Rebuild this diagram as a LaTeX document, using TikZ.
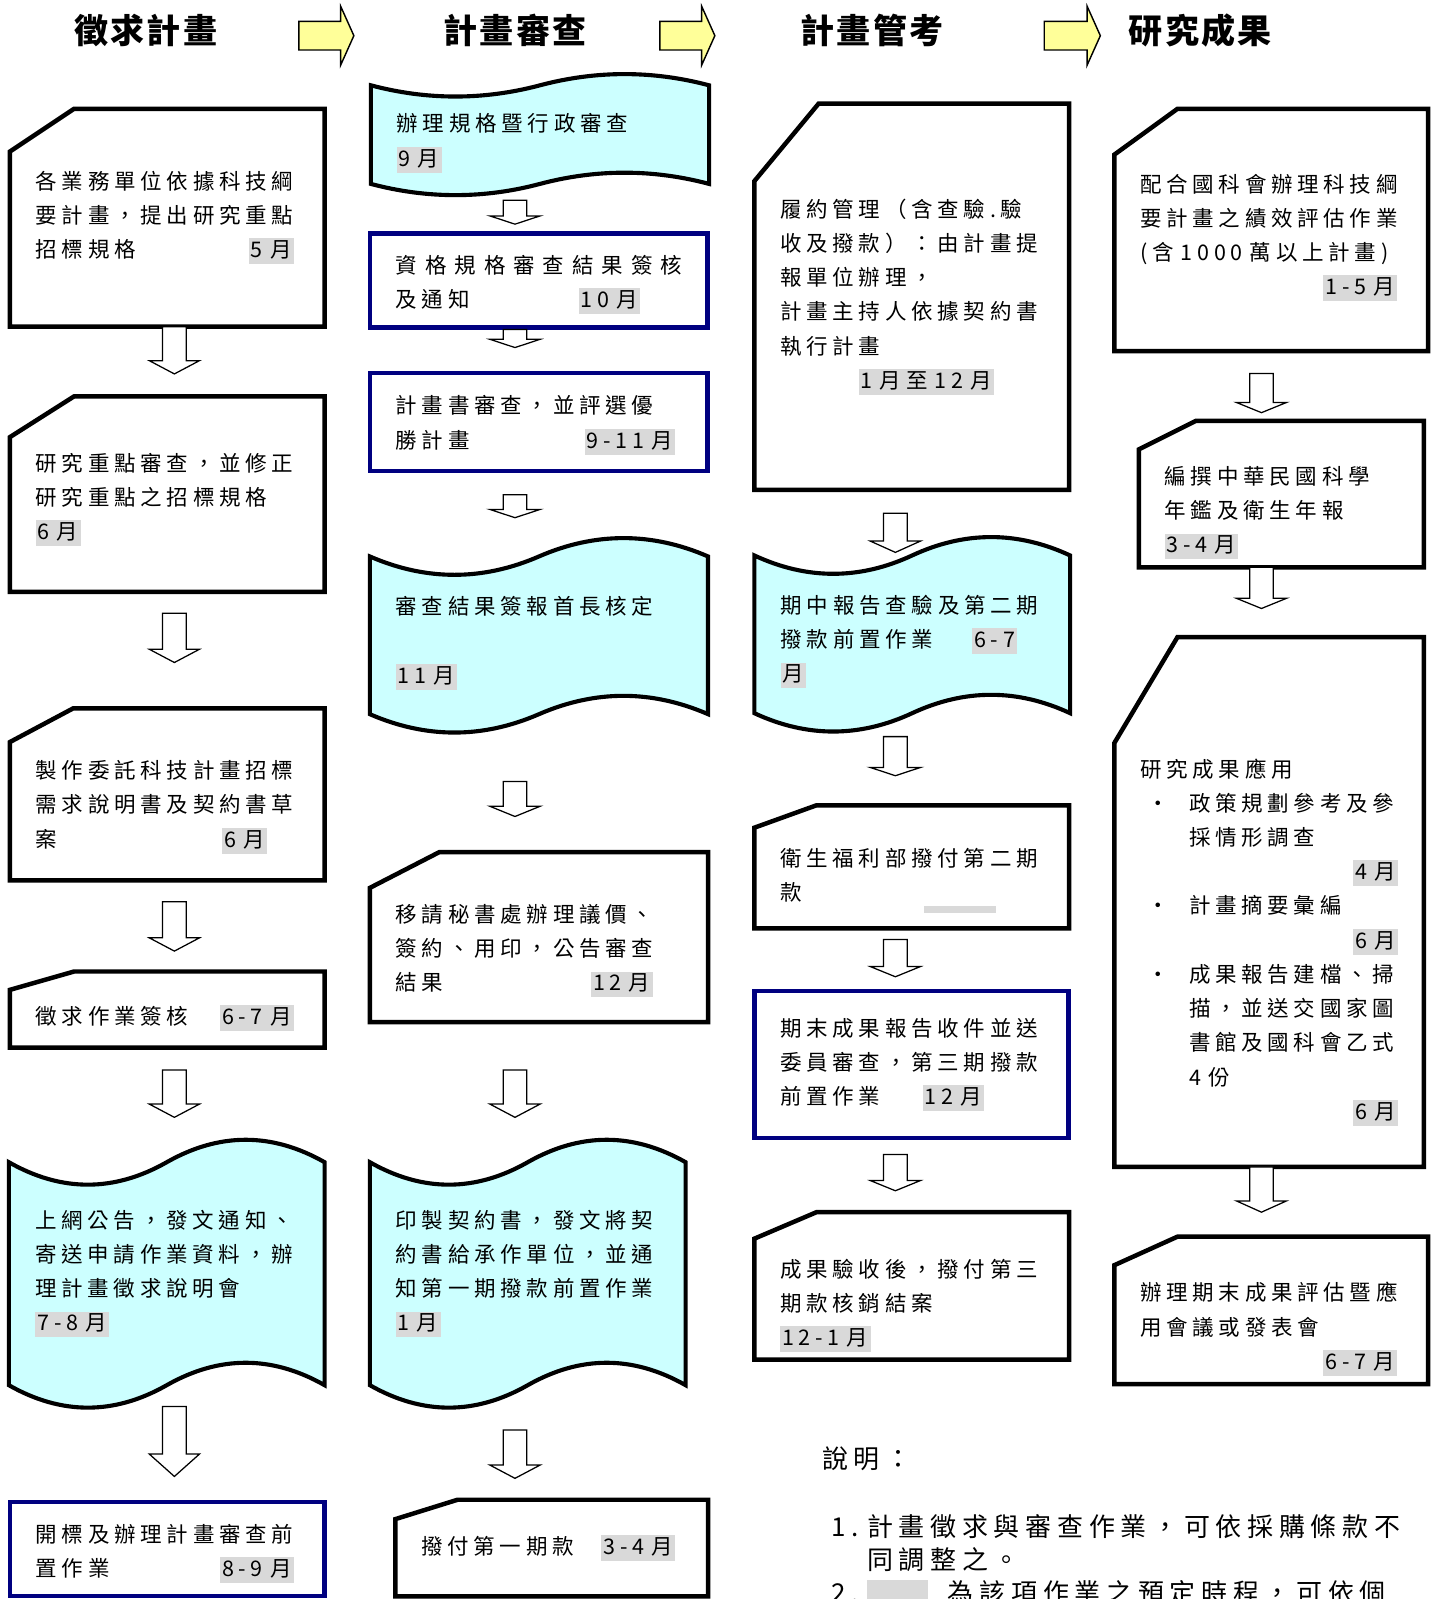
\documentclass[tikz,border=0pt]{standalone}
\usepackage{fontspec}
\setmainfont{Noto Sans CJK TC}
\newfontfamily\boxfont{Noto Sans CJK TC}[LetterSpace=22]
\newfontfamily\headfont{Noto Sans CJK TC}[LetterSpace=7]
\usetikzlibrary{calc,backgrounds}
\definecolor{tapecyan}{RGB}{204,255,255}
\definecolor{framenavy}{RGB}{0,0,128}
\definecolor{phaseyellow}{RGB}{255,255,153}
\definecolor{monthgray}{RGB}{217,217,217}

\newcommand{\mon}[1]{{\setlength{\fboxsep}{1.2pt}\colorbox{monthgray}{\rule[-0.2em]{0pt}{1em}#1}}}
\newcommand{\cardframe}[3]{\draw[cardline] ($(#1.north west)+(#2,0)$) -- (#1.north east) -- (#1.south east) -- (#1.south west) -- ($(#1.north west)+(0,#3)$) -- cycle;}
\newcommand{\tapeframe}[2]{%
  \begin{pgfonlayer}{background}
  \filldraw[tapeline] let \p1=(#1.north west), \p2=(#1.south east), \n1={(\x2-\x1)/6}, \n2={#2*0.759pt} in
    (\x1,\y1) .. controls +(\n1,-\n2) and +(-\n1,-\n2) .. (\x1+3*\n1,\y1)
    .. controls +(\n1,\n2) and +(-\n1,\n2) .. (\x2,\y1) -- (\x2,\y2)
    .. controls +(-\n1,\n2) and +(\n1,\n2) .. (\x1+3*\n1,\y2)
    .. controls +(-\n1,-\n2) and +(\n1,-\n2) .. (\x1,\y2) -- cycle;
  \end{pgfonlayer}}

\begin{document}
\begin{tikzpicture}[x=0.02cm, y=-0.02cm,
    box/.style={font=\boxfont\fontsize{12}{19.1}\selectfont, align=left, inner sep=0pt},
    drop/.style={execute at begin node={\rule{0pt}{#1}}},
    bluebox/.style={box, draw=framenavy, line width=2.5pt},
    cardline/.style={draw=black, line width=2.5pt},
    tapeline/.style={draw=black, line width=2.3pt, fill=tapecyan},
    head/.style={font=\headfont\bfseries\fontsize{19}{22}\selectfont, inner sep=0pt},
    note/.style={font=\boxfont\fontsize{14.5}{18.4}\selectfont, align=left, inner sep=0pt},
    colA/.style={box, minimum width=6.16cm, text width=5.16cm},
    colB/.style={box, minimum width=6.62cm, text width=5.62cm},
    colC/.style={box, minimum width=6.16cm, text width=5.16cm},
    colD/.style={box, minimum width=6.14cm, text width=5.14cm},
    flow/.style={draw=black, line width=0.7pt, fill=white,
      to path={let \p1=(\tikztostart), \p2=(\tikztotarget) in
        (\x1-6.6pt,\y1) -- (\x1-6.6pt,\y2+#1) -- (\x1-14pt,\y2+#1) -- (\x1,\y2)
        -- (\x1+14pt,\y2+#1) -- (\x1+6.6pt,\y2+#1) -- (\x1+6.6pt,\y1) -- cycle}},
    flow/.default=7.4pt,
    phase/.style={draw=black, line width=0.8pt, fill=phaseyellow,
      to path={let \p1=(\tikztostart), \p2=(\tikztotarget) in
        (\x1,\y1+8pt) -- (\x2-7.4pt,\y1+8pt) -- (\x2-7.4pt,\y1+16.5pt) -- (\x2,\y1)
        -- (\x2-7.4pt,\y1-16.5pt) -- (\x2-7.4pt,\y1-8pt) -- (\x1,\y1-8pt) -- cycle}}
]
\useasboundingbox (0,0) rectangle (1409,1568);
\clip (0,0) rectangle (1409,1568);

% Titles
\node[head] (t1) at (143,30) {徵求計畫};
\node[head] (t2) at (505,30) {計畫審查};
\node[head] (t3) at (855,30) {計畫管考};
\node[head] (t4) at (1177,30) {研究成果};
\draw[phase] ($(t1)+(150,5)$) to ($(t2)+(-158,5)$);
\draw[phase] ($(t2)+(142,5)$) to ($(t3)+(-154,5)$);
\draw[phase] ($(t3)+(169,5)$) to ($(t4)+(-98,5)$);

% Column 1
\node[colA, minimum height=4.26cm] (a1) at (164,213.5) {各業務單位依據科技綱\\要計畫，提出研究重點\\招標規格\hfill\mon{5~月}\hspace{0.1cm}\mbox{}};
\node[colA, drop=16.3pt, minimum height=3.82cm] (a2) at (164,484.5) {研究重點審查，並修正\\研究重點之招標規格\\\mon{6~月}};
\node[colA, drop=24.3pt, minimum height=3.36cm] (a3) at (164,779) {製作委託科技計畫招標\\需求說明書及契約書草\\案\hfill\mon{6~月}\hspace{0.62cm}\mbox{}};
\node[colA, drop=20pt, minimum height=1.48cm] (a4) at (164,990) {徵求作業簽核\hfill\mon{6-7~月}\hspace{0.1cm}\mbox{}};
\node[colA, minimum width=6.18cm, minimum height=4.36cm] (a5) at (163.5,1249) {上網公告，發文通知、\\寄送申請作業資料，辦\\理計畫徵求說明會\\\mon{7-8~月}};
\node[colA, bluebox, drop=15.2pt, minimum height=1.84cm] (a6) at (164,1519) {開標及辦理計畫審查前\\置作業\hfill\mon{8-9~月}\hspace{0.1cm}\mbox{}};

% Column 2
\node[colB, drop=19.7pt, minimum height=1.92cm] (b1) at (529.5,132) {辦理規格暨行政審查\\\mon{9~月}};
\node[colB, bluebox, drop=14.6pt, minimum height=1.84cm] (b2) at (528.5,275) {\makebox[5.62cm][s]{資\hfill 格\hfill 規\hfill 格\hfill 審\hfill 查\hfill 結\hfill 果\hfill 簽\hfill 核}\\及通知\hfill\mon{10~月}\hspace{0.82cm}\mbox{}};
\node[colB, bluebox, drop=13.4pt, minimum height=1.92cm] (b3) at (528.5,414) {計畫書審查，並評選優\\勝計畫\hfill\mon{9-11~月}\hspace{0.14cm}\mbox{}};
\node[colB, drop=19.1pt, minimum height=3.08cm] (b4) at (528.5,623) {審查結果簽報首長核定\\[19.1pt]\mon{11~月}};
\node[colB, drop=25.4pt, minimum height=3.32cm] (b5) at (528.5,919) {移請秘書處辦理議價、\\簽約、用印，公告審查\\結果\hfill\mon{12~月}\hspace{0.58cm}\mbox{}};
\node[colB, minimum width=6.18cm, text width=5.18cm, minimum height=4.36cm] (b6) at (517.5,1249) {印製契約書，發文將契\\約書給承作單位，並通\\知第一期撥款前置作業\\\mon{1~月}};
\node[colB, minimum width=6.12cm, text width=5.12cm, minimum height=1.88cm] (b7) at (541,1518) {撥付第一期款\hfill\mon{3-4~月}\hspace{0.14cm}\mbox{}};

% Column 3
\node[colC, minimum height=7.56cm] (c1) at (894,291) {履約管理（含查驗.驗\\收及撥款）：由計畫提\\報單位辦理，\\計畫主持人依據契約書\\執行計畫\\\hspace*{1.54cm}\mon{1~月至~12~月}};
\node[colC, drop=18.6pt, minimum width=6.18cm, minimum height=3.08cm] (c2) at (894.5,622) {期中報告查驗及第二期\\撥款前置作業\hfill\mon{6-7}\hspace{0.52cm}\mbox{}\\\mon{月}};
\node[colC, drop=19.7pt, minimum height=2.4cm] (c3) at (894,850) {衛生福利部撥付第二期\\款};
\node[colC, bluebox, minimum height=2.88cm] (c4) at (894,1044) {期末成果報告收件並送\\委員審查，第三期撥款\\前置作業\hfill\mon{12~月}\hspace{1.16cm}\mbox{}};
\node[colC, drop=32.2pt, minimum height=2.88cm] (c5) at (894,1261) {成果驗收後，撥付第三\\期款核銷結案\\\mon{12-1~月}};

% Column 4
\node[colD, drop=18.6pt, minimum height=4.74cm] (d1) at (1246.5,225.5) {配合國科會辦理科技綱\\要計畫之績效評估作業\\(含~1000~萬以上計畫)\\\mbox{}\hfill\mon{1-5~月}\hspace{0.1cm}\mbox{}};
\node[colD, drop=31.1pt, minimum width=5.58cm, text width=4.58cm, minimum height=2.86cm] (d2) at (1256.5,484.5) {編撰中華民國科學\\年鑑及衛生年報\\\mon{3-4~月}};
\node[colD, minimum width=6.06cm, text width=5.06cm, minimum height=10.38cm] (d3) at (1244.5,884.5) {\mbox{}\\[36pt]研究成果應用\\
  \hspace*{0.14cm}\makebox[0.82cm][l]{•}政策規劃參考及參\\
  \hspace*{0.96cm}採情形調查\\
  \mbox{}\hfill\mon{4~月}\\
  \hspace*{0.14cm}\makebox[0.82cm][l]{•}計畫摘要彙編\\
  \mbox{}\hfill\mon{6~月}\\
  \hspace*{0.14cm}\makebox[0.82cm][l]{•}成果報告建檔、掃\\
  \hspace*{0.96cm}描，並送交國家圖\\
  \hspace*{0.96cm}書館及國科會乙式\\
  \hspace*{0.96cm}4~份\\
  \mbox{}\hfill\mon{6~月}};
\node[colD, drop=31.1pt, minimum height=2.88cm] (d4) at (1246.5,1285) {辦理期末成果評估暨應\\用會議或發表會\\\mbox{}\hfill\mon{6-7~月}\hspace{0.1cm}\mbox{}};

% Notes
\node[note, anchor=west] (memo) at (806,1430) {說明：};
\node[note, anchor=north west] (memolist) at (815,1485) {\makebox[0.7cm][l]{1.}計畫徵求與審查作業，可依採購條款不\\\hspace*{0.7cm}同調整之。\\\makebox[0.7cm][l]{2.}\mon{\hspace{1.1cm}}\hspace{0.4cm}為該項作業之預定時程，可依個};

% Frames
\cardframe{a1}{63}{42}
\cardframe{a2}{63}{40}
\cardframe{a3}{62}{33}
\cardframe{a4}{63}{18}
\cardframe{b5}{68}{35}
\cardframe{b7}{61}{19}
\cardframe{c1}{63}{76}
\cardframe{c3}{61}{22}
\cardframe{c5}{61}{26}
\cardframe{d1}{62}{45}
\cardframe{d2}{56}{28}
\cardframe{d3}{62}{104}
\cardframe{d4}{62}{28}
\tapeframe{a5}{22}
\tapeframe{b1}{11}
\tapeframe{b4}{18}
\tapeframe{b6}{22}
\tapeframe{c2}{18}
\fill[monthgray] ($(c3.south west)+(166,-22)$) rectangle +(71,7);

% Arrows
\coordinate (ca) at (171,0);
\coordinate (cb) at (505,0);
\coordinate (cc) at (878,0);
\coordinate (cd) at (1237,0);
\draw[flow] (ca |- a1.south) to ($(ca |- a2.north)+(0,-22)$);
\draw[flow] ($(ca |- a2.south)+(0,21)$) to ($(ca |- a3.north)+(0,-45)$);
\draw[flow] ($(ca |- a3.south)+(0,21)$) to ($(ca |- a4.north)+(0,-20)$);
\draw[flow] ($(ca |- a4.south)+(0,22)$) to ($(ca |- a5.north)+(0,-44)$);
\draw[flow=12.5pt] ($(ca |- a5.south)+(0,21)$) to ($(ca |- a6.north)+(0,-23)$);
\draw[flow=4.6pt] ($(cb |- b1.south)+(0,16)$) to ($(cb |- b2.north)+(0,-7)$);
\draw[flow=4.6pt] (cb |- b2.south) to ($(cb |- b3.north)+(0,-23)$);
\draw[flow=4.6pt] ($(cb |- b3.south)+(0,21)$) to ($(cb |- b4.north)+(0,-38)$);
\draw[flow=5.7pt] ($(cb |- b4.south)+(0,66)$) to ($(cb |- b5.north)+(0,-35)$);
\draw[flow] ($(cb |- b5.south)+(0,47)$) to ($(cb |- b6.north)+(0,-44)$);
\draw[flow] ($(cb |- b6.south)+(0,44)$) to ($(cb |- b7.north)+(0,-21)$);
\draw[flow=6.3pt] ($(cc |- c1.south)+(0,23)$) to ($(cc |- c2.north)+(0,-3)$);
\draw[flow=4.6pt] ($(cc |- c2.south)+(0,23)$) to ($(cc |- c3.north)+(0,-29)$);
\draw[flow=5.7pt] ($(cc |- c3.south)+(0,11)$) to ($(cc |- c4.north)+(0,-12)$);
\draw[flow=5.7pt] ($(cc |- c4.south)+(0,14)$) to ($(cc |- c5.north)+(0,-21)$);
\draw[flow=5.7pt] ($(cd |- d1.south)+(0,22)$) to ($(cd |- d2.north)+(0,-8)$);
\draw[flow=5.7pt] (cd |- d2.south) to ($(cd |- d3.north)+(0,-28)$);
\draw[flow=6.3pt] (cd |- d3.south) to ($(cd |- d4.north)+(0,-24)$);

\end{tikzpicture}
\end{document}
